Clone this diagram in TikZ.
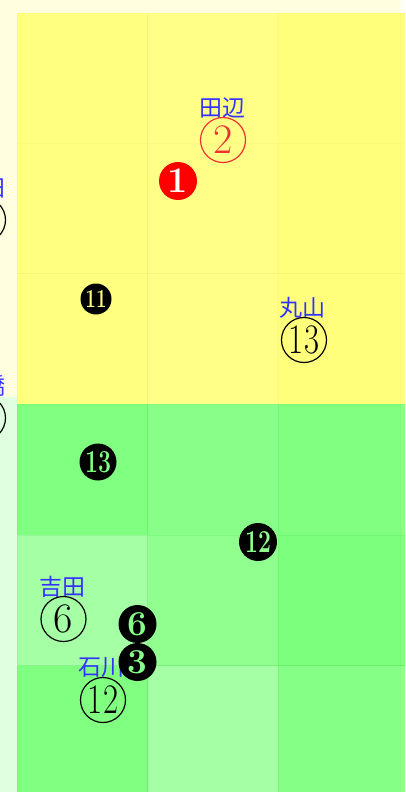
\documentclass[tikz,border=0pt]{standalone}
\usepackage{fontspec}
\usepackage{graphicx}
\newfontfamily\cjk{Noto Sans CJK JP}
\definecolor{paleY}{HTML}{FFFFE0}
\definecolor{paleG}{HTML}{E0FFE0}
\definecolor{yA}{HTML}{FFFF80}
\definecolor{yB}{HTML}{FFFF88}
\definecolor{yC}{HTML}{FFFF7C}
\definecolor{gA}{HTML}{80FF80}
\definecolor{gB}{HTML}{88FF88}
\definecolor{gL}{HTML}{A5FFA5}
\definecolor{gM}{HTML}{90FF90}
\definecolor{gD}{HTML}{7CFF7C}
\definecolor{gE}{HTML}{85FF85}
\definecolor{nameblue}{RGB}{50,50,255}
\definecolor{redc}{RGB}{240,50,50}
\tikzset{
  cellY/.style={fill=#1, draw=yellow!70!black, draw opacity=0.06, line width=0.5pt},
  cellG/.style={fill=#1, draw=green!70!black, draw opacity=0.08, line width=0.5pt},
  pname/.style={text=nameblue, font=\cjk\fontsize{23}{23}\selectfont, inner sep=0pt},
  seatc/.style={circle, draw=black, line width=1.2pt, minimum size=45pt, inner sep=0pt, font=\fontsize{42}{42}\selectfont},
  blk/.style={circle, fill=black, inner sep=0pt, minimum size=#1},
}
\begin{document}
\begin{tikzpicture}[x=1pt,y=-1pt]
\useasboundingbox (0,0) rectangle (405,792);
\begin{scope}
\clip (0,0) rectangle (405,792);
% margins
\fill[paleY] (0,0) rectangle (400,13);
\fill[yellow!5!white] (400,0) rectangle (405,13);
\fill[paleY] (0,13) rectangle (17,397);
\fill[paleG] (0,397) rectangle (17,792);
% yellow cells
\foreach \ya/\yb in {13/143,143/273.5,273.5/404}{
  \path[cellY=yA] (17,\ya) rectangle (147.5,\yb);
  \path[cellY=yB] (147.5,\ya) rectangle (278,\yb);
  \path[cellY=yC] (278,\ya) rectangle (400,\yb);
  \path[cellY=yA] (400,\ya) rectangle (410,\yb);
}
% green cells
\path[cellG=gA] (17,404) rectangle (147.5,535);
\path[cellG=gB] (147.5,404) rectangle (278,535);
\path[cellG=gA] (278,404) rectangle (400,535);
\path[cellG=gB] (400,404) rectangle (410,535);
\path[cellG=gL] (17,535) rectangle (147.5,665.5);
\path[cellG=gM] (147.5,535) rectangle (278,665.5);
\path[cellG=gD] (278,535) rectangle (400,665.5);
\path[cellG=gA] (400,535) rectangle (410,665.5);
\path[cellG=gA] (17,665.5) rectangle (147.5,800);
\path[cellG=gL] (147.5,665.5) rectangle (278,800);
\path[cellG=gE] (278,665.5) rectangle (400,800);
\path[cellG=gM] (400,665.5) rectangle (410,800);

% cut-off seats at left
\node[pname, anchor=east] (nL1) at (6,188) {田};
\node[seatc] (sL1) at (-17,220) {};
\node[pname, anchor=east] (nL2) at (6,386) {橋};
\node[seatc] (sL2) at (-17,418) {};

% named seats
\node[pname] (n1) at (222,108) {田辺};
\node[seatc, draw=redc, text=redc] (s1) at (223,140) {2};
\node[pname] (n2) at (302,308) {丸山};
\node[seatc] (s2) at (304,340) {\scalebox{0.78}[1]{13}};
\node[pname] (n3) at (62,587) {吉田};
\node[seatc] (s3) at (63.5,619) {6};
\node[pname] (n4) at (101,667) {石川};
\node[seatc] (s4) at (103,700) {\scalebox{0.78}[1]{12}};

% black markers
\node[blk=38pt, fill=red, text=white, font=\fontsize{36}{36}\bfseries\selectfont] (m1) at (178,181) {1};
\node[blk=31pt, text=yA, font=\fontsize{26}{26}\bfseries\selectfont] (m11) at (96,299) {\scalebox{0.72}[1]{11}};
\node[blk=37pt, text=gA, font=\fontsize{32}{32}\bfseries\selectfont] (m13) at (98,462) {\scalebox{0.72}[1]{13}};
\node[blk=38pt, text=gM, font=\fontsize{32}{32}\bfseries\selectfont] (m12) at (258,542) {\scalebox{0.72}[1]{12}};
\node[blk=38pt, text=gB, font=\fontsize{35}{35}\bfseries\selectfont] (m6) at (137.5,624) {6};
\node[blk=38pt, text=gB, font=\fontsize{35}{35}\bfseries\selectfont] (m3) at (137.5,662) {3};
\end{scope}
\end{tikzpicture}
\end{document}
